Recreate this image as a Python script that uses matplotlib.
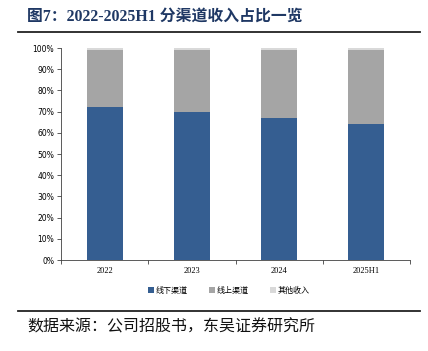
import matplotlib
matplotlib.use("Agg")
import matplotlib.pyplot as plt
from matplotlib.ticker import FixedLocator, PercentFormatter
import numpy as np

plt.rcParams['font.family'] = ['Liberation Serif', 'Noto Sans CJK SC', 'DejaVu Sans']

categories = ["2022", "2023", "2024", "2025H1"]
series_names = ["线下渠道", "线上渠道", "其他收入"]
offline = [72, 70, 67, 64]
online = [27, 29, 32, 35]
other = [1, 1, 1, 1]
colors = ["#355E91", "#A5A5A5", "#D9D9D9"]

W, H = 428, 351
fig = plt.figure(figsize=(W / 100, H / 100), dpi=100)

ax = fig.add_axes([61 / W, 1 - 260 / H, (410 - 61) / W, (260 - 48) / H])
x = np.arange(len(categories))
bottom = np.zeros(len(categories))
for name, vals, c in zip(series_names, [offline, online, other], colors):
    ax.bar(x, vals, width=0.41, bottom=bottom, color=c, label=name, zorder=2)
    bottom += np.array(vals)

ax.set_xlim(-0.5, len(categories) - 0.5)
ax.set_ylim(0, 100)
ax.set_yticks(np.arange(0, 101, 10))
ax.yaxis.set_major_formatter(PercentFormatter(decimals=0))
ax.set_xticks(x)
ax.set_xticklabels(categories, fontsize=6, family='Liberation Serif')
ax.tick_params(axis='x', length=0, pad=5)
ax.xaxis.set_minor_locator(FixedLocator(np.arange(-0.5, len(categories), 1.0)))
ax.tick_params(axis='x', which='minor', length=3, width=0.6, color='#404040')
ax.tick_params(axis='y', length=3, width=0.6, color='#404040', labelsize=5.5, pad=2)
for lab in ax.get_yticklabels():
    lab.set_family('DejaVu Sans')
for s in ['top', 'right']:
    ax.spines[s].set_visible(False)
for s in ['left', 'bottom']:
    ax.spines[s].set_linewidth(0.6)
    ax.spines[s].set_color('#404040')

leg = ax.legend(loc='center', bbox_to_anchor=((229 - 61) / (410 - 61), -(290 - 260) / (260 - 48)),
                ncol=3, frameon=False, handlelength=0.8, handleheight=0.8,
                handletextpad=0.2, columnspacing=2.6,
                prop={'family': ['Noto Sans CJK SC'], 'size': 5.8})

# title
fig.text(27 / W, 1 - 17 / H, "图7：2022-2025H1 分渠道收入占比一览", fontsize=11.4, fontweight='bold',
         color='#1F3864', va='center', ha='left',
         family=['Liberation Serif', 'Noto Sans CJK SC'])
fig.add_artist(plt.Line2D([18 / W, 420 / W], [1 - 32 / H, 1 - 32 / H], color='#222222', lw=1.3))
fig.add_artist(plt.Line2D([18 / W, 420 / W], [1 - 311 / H, 1 - 311 / H], color='#222222', lw=1.3))
fig.text(27 / W, 1 - 327 / H, "数据来源：公司招股书，东吴证券研究所", fontsize=11.5,
         color='#111111', va='center', ha='left', family=['Noto Sans CJK SC'])

fig.savefig("out.png", dpi=100)
